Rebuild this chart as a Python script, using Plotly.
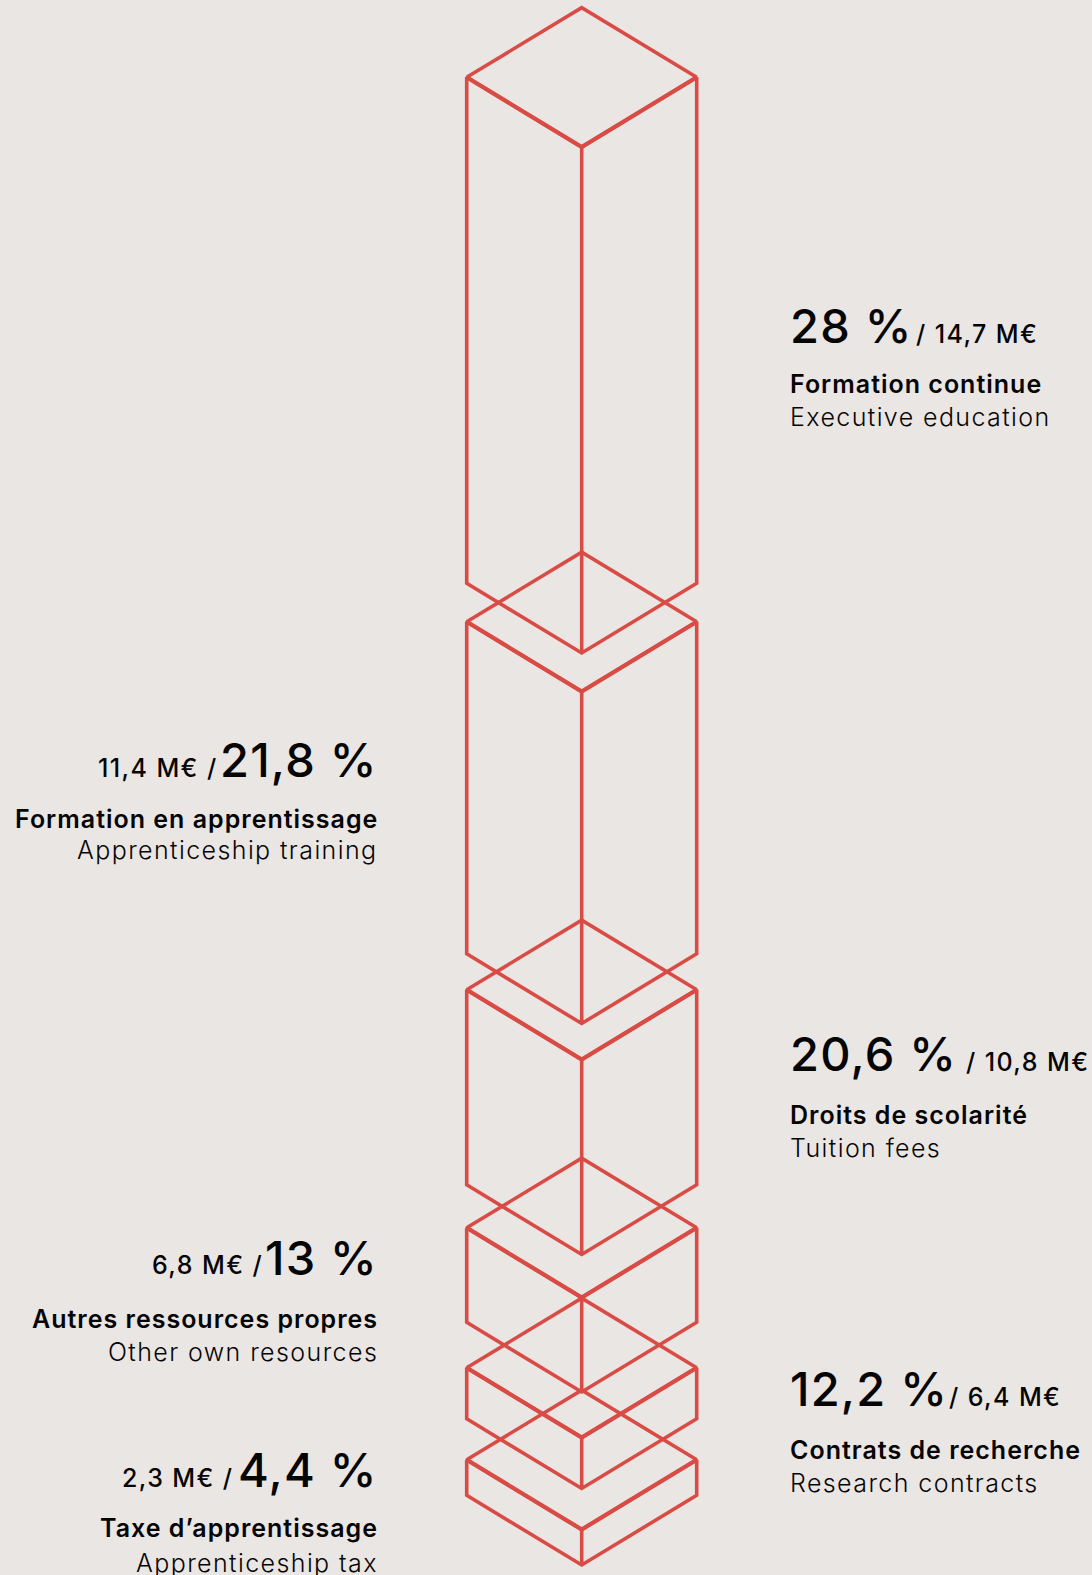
import plotly.graph_objects as go

# Box geometry, in picture pixels
box_names = ["Formation continue", "Formation en apprentissage", "Droits de scolarité",
             "Autres ressources propres", "Contrats de recherche", "Taxe d’apprentissage"]
box_centre_y = [77.3, 621.8, 989.8, 1227.8, 1367.8, 1459.8]
box_height = [506, 332, 195, 94.5, 51, 35.5]
centre_x = 581.7
half_w = 115
half_h = 69.7

# Labels
pct = ["28 %", "21,8 %", "20,6 %", "13 %", "12,2 %", "4,4 %"]
amount_right = ["/ 14,7 M€", None, "/ 10,8 M€", None, "/ 6,4 M€", None]
amount_left = [None, "11,4 M€ /", None, "6,8 M€ /", None, "2,3 M€ /"]
label_fr = box_names
label_en = ["Executive education", "Apprenticeship training", "Tuition fees",
            "Other own resources", "Research contracts", "Apprenticeship tax"]
side = ["r", "l", "r", "l", "r", "l"]
big_base = [342.7, 776.6, 1071, 1274.5, 1406, 1486.7]
bold_base = [393.5, 828, 1124, 1328, 1459.5, 1537.5]
light_base = [425.7, 859, 1157, 1361, 1492, 1571.7]
amount_gap_right = [916, None, 966, None, 949, None]
amount_gap_left = [None, 217, None, 262, None, 232]

FONT = "Inter"
INK = "#050505"
RED = "#D94C46"
BG = "#EAE6E4"
X_RIGHT = 790
X_LEFT = 376.5
ASC_MID = 0.364

fig = go.Figure()
for cy, h, name in zip(box_centre_y, box_height, box_names):
    l, r, c = centre_x - half_w, centre_x + half_w, centre_x
    xs = [l, c, r, None, c, r, r, c, l, l, c, c]
    ys = [cy, cy - half_h, cy, None, cy + half_h, cy, cy + h, cy + half_h + h, cy + h, cy,
          cy + half_h, cy + half_h + h]
    fig.add_trace(go.Scatter(x=xs, y=ys, mode="lines", name=name, hoverinfo="name",
                             line=dict(color=RED, width=3.6, simplify=False), showlegend=False,
                             connectgaps=False))
    fig.add_trace(go.Scatter(x=[l, c, r], y=[cy, cy + half_h, cy], mode="lines", hoverinfo="skip",
                             line=dict(color=RED, width=4.2), showlegend=False))


def put(x, base, text, size, anchor, weight, spacing):
    shift = spacing if anchor == "right" else 0
    fig.add_annotation(x=x + shift, y=base - ASC_MID * size, xref="x", yref="y",
                       text='<span style="letter-spacing:%.2fpx">%s</span>' % (spacing, text),
                       showarrow=False, xanchor=anchor, yanchor="middle", borderpad=0, borderwidth=0,
                       font=dict(family=FONT, size=size, color=INK, weight=weight))


for i in range(6):
    if side[i] == "r":
        x, anchor, amt, amt_x = X_RIGHT, "left", amount_right[i], amount_gap_right[i]
    else:
        x, anchor, amt, amt_x = X_LEFT, "right", amount_left[i], amount_gap_left[i]
    put(x, big_base[i], pct[i], 47, anchor, 500, 1.2)
    put(amt_x, big_base[i], amt, 25, anchor, 500, 1.4)
    put(x, bold_base[i], label_fr[i], 25, anchor, 600, 1.0)
    put(x, light_base[i], label_en[i], 25, anchor, 300, 1.4)

fig.update_layout(width=1092, height=1575, margin=dict(l=0, r=0, t=0, b=0),
                  paper_bgcolor=BG, plot_bgcolor=BG, showlegend=False,
                  xaxis=dict(range=[0, 1092], visible=False, fixedrange=True),
                  yaxis=dict(range=[1575, 0], visible=False, fixedrange=True))
fig.write_html("out.html", config={"displayModeBar": False},
               post_script="document.body.style.margin='0';document.body.style.background='%s';" % BG)
